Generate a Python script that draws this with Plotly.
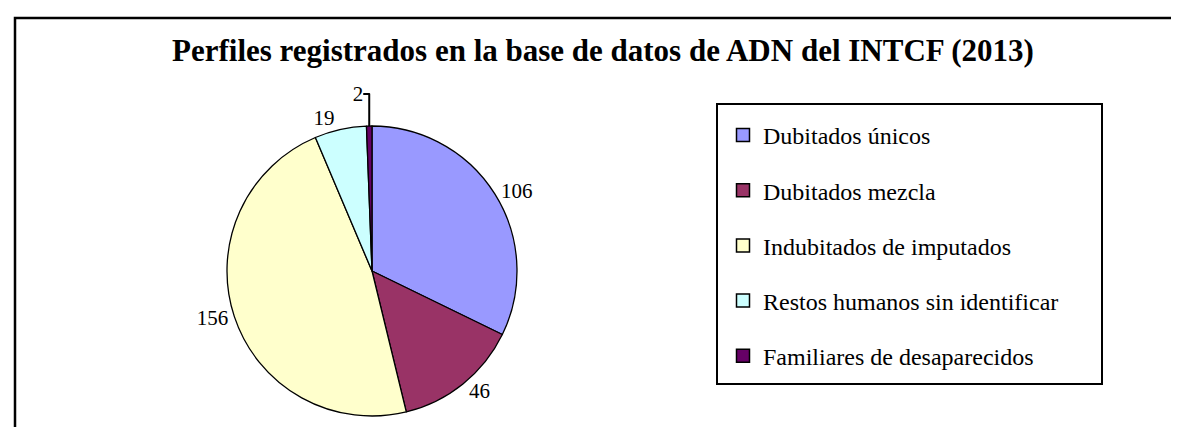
import plotly.graph_objects as go

categories = ["Dubitados únicos", "Dubitados mezcla", "Indubitados de imputados",
              "Restos humanos sin identificar", "Familiares de desaparecidos"]
values = [106, 46, 156, 19, 2]
colors = ["#9999FF", "#993366", "#FFFFCC", "#CCFFFF", "#660066"]
title_text = "Perfiles registrados en la base de datos de ADN del INTCF (2013)"

W, H = 1179, 427
cx, cy, r = 364, 263, 145
FONT = "Liberation Serif"
LEG_FS = 24
item_h = LEG_FS * 1.3 + 3
leg_top = 127 - 5 - item_h / 2

fig = go.Figure()
fig.add_trace(go.Pie(
    labels=categories, values=values, sort=False, direction="clockwise", rotation=0,
    marker=dict(colors=colors, line=dict(color="black", width=1.3)),
    textinfo="value", textposition="outside",
    textfont=dict(family=FONT, size=21, color="black"),
    domain=dict(x=[(cx - r) / W, (cx + r) / W], y=[(H - cy - r) / H, (H - cy + r) / H]),
    showlegend=False, hoverinfo="label+value",
))
# legend entries (one group per category so the entries can be spaced)
for i, (c, col) in enumerate(zip(categories, colors)):
    fig.add_trace(go.Scatter(
        x=[None], y=[None], mode="markers", name=c, legendgroup=f"g{i}",
        marker=dict(symbol="square", size=13, color=col, line=dict(color="black", width=1.5)),
    ))

fig.update_layout(
    width=W, height=H, margin=dict(l=0, r=0, t=0, b=0),
    paper_bgcolor="white", plot_bgcolor="white",
    xaxis=dict(visible=False), yaxis=dict(visible=False),
    title=dict(text=f"<b>{title_text}</b>", x=595 / W, xanchor="center",
               y=(H - 42) / H, yanchor="middle",
               font=dict(family=FONT, size=31, color="black")),
    legend=dict(x=715 / W, y=(H - leg_top) / H, xanchor="left", yanchor="top",
                borderwidth=0, bgcolor="rgba(0,0,0,0)",
                font=dict(family=FONT, size=LEG_FS, color="black"),
                tracegroupgap=round(55 - item_h), itemsizing="trace"),
    shapes=[
        dict(type="rect", xref="paper", yref="paper",
             x0=7 / W, x1=1.1, y0=-0.1, y1=(H - 10) / H,
             line=dict(color="black", width=2.5), layer="below"),
        dict(type="rect", xref="paper", yref="paper",
             x0=709 / W, x1=1094 / W, y0=(H - 376) / H, y1=(H - 96) / H,
             line=dict(color="black", width=2), layer="below"),
    ],
)
fig.write_html("out.html")
